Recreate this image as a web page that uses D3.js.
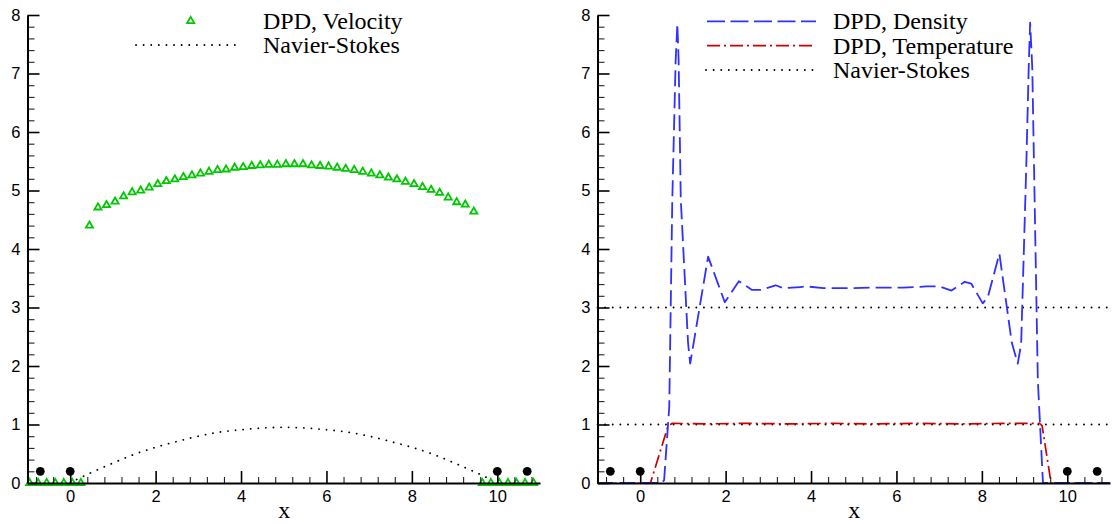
<!DOCTYPE html>
<html>
<head>
<meta charset="utf-8">
<script src="https://cdn.jsdelivr.net/npm/d3@7"></script>
<style>
  html, body { margin: 0; padding: 0; background: #fff; }
  svg { display: block; }
  .tick text { font-family: "Liberation Sans", Arial, sans-serif; font-size: 16.5px; fill: #000; }
  .lab { font-family: "Liberation Serif", "Times New Roman", serif; font-size: 24px; fill: #000; }
</style>
</head>
<body>
<svg id="chart" width="1112" height="524"></svg>
<script>
// ---------------- DATA ----------------
const xTicks = [0, 2, 4, 6, 8, 10];
const yTicks = [0, 1, 2, 3, 4, 5, 6, 7, 8];

// Left panel: DPD velocity (triangles)
const velX = [0.45,0.65,0.85,1.05,1.25,1.45,1.65,1.85,2.05,2.25,2.45,2.65,2.85,3.05,3.25,3.45,3.65,3.85,4.05,4.25,4.45,4.65,
              4.85,5.05,5.25,5.45,5.65,5.85,6.05,6.25,6.45,6.65,6.85,7.05,7.25,7.45,7.65,7.85,8.05,8.25,8.45,8.65,8.85,9.05,9.25,9.45];
const velY = [4.40,4.71,4.75,4.81,4.90,4.97,5.00,5.05,5.11,5.16,5.19,5.23,5.26,5.29,5.32,5.35,5.36,5.39,5.40,5.42,5.43,5.44,
              5.44,5.45,5.45,5.45,5.43,5.42,5.41,5.39,5.37,5.35,5.32,5.29,5.26,5.22,5.19,5.15,5.11,5.06,5.01,4.96,4.88,4.80,4.76,4.64];
// wall region velocity samples (zero)
const wallX = [-0.95,-0.75,-0.55,-0.35,-0.15,0.05,0.25, 9.65,9.85,10.05,10.25,10.45,10.65,10.85];
const wallY = [0,0,0,0,0,0,0, 0,0,0,0,0,0,0];

// Left panel: Navier-Stokes velocity
const nsVelX = [0.15,0.5,1,1.5,2,2.5,3,3.5,4,4.5,5,5.5,6,6.5,7,7.5,8,8.5,9,9.5,9.85];
const nsVelY = [0.06,0.18,0.34,0.49,0.61,0.71,0.80,0.87,0.91,0.94,0.952,0.94,0.91,0.87,0.80,0.71,0.61,0.49,0.34,0.18,0.06];

// Wall particles (black dots)
const wallDotX = [-0.7, 0, 10, 10.7];
const wallDotY = [0.2, 0.2, 0.2, 0.2];

// Right panel: DPD density
const denX = [-1,0.5,0.56,0.68,0.75,0.83,0.87,0.9,0.95,1.12,1.17,1.59,1.98,2.31,2.62,2.82,3.17,3.36,3.75,3.9,4.29,4.84,5.38,5.93,6.16,6.7,7.01,7.29,7.6,7.75,8.02,8.14,8.41,8.7,8.84,8.92,9.04,9.1,9.13,9.18,9.31,9.43,11];
const denY = [0,0,0.05,1.3,4.8,7.22,7.85,7.22,4.85,2.4,2.04,3.87,3.09,3.45,3.30,3.30,3.38,3.33,3.35,3.36,3.33,3.33,3.34,3.34,3.34,3.36,3.36,3.29,3.44,3.41,3.07,3.18,3.92,2.4,2.04,2.38,5.42,7.2,7.87,7.1,1.76,0.0,0];

// Right panel: DPD temperature
const tempX = [-1,0.24,0.65,0.75,1.5,2.5,3.5,4.5,5.5,6.5,7.5,8.5,9.35,9.41,9.62,11];
const tempY = [0,0,0.97,1.02,1.01,1.02,1.01,1.02,1.01,1.02,1.01,1.02,1.02,0.98,0,0];

// Right panel: Navier-Stokes density and temperature
const nsDenY = 3;
const nsTempY = 1;

const legendLeft = ["DPD, Velocity", "Navier-Stokes"];
const legendRight = ["DPD, Density", "DPD, Temperature", "Navier-Stokes"];

// ---------------- DRAW ----------------
const svg = d3.select("#chart");
const GREEN = "#00c800", BLUE = "#3030ff", RED = "#cc0000";
const DOT_DASH = "0.1,7.5";

function makePanel(x0, x1) {
  const x = d3.scaleLinear().domain([-1, 11]).range([x0, x1]);
  const y = d3.scaleLinear().domain([0, 8]).range([483, 15]);
  return {x, y};
}

function drawAxes(g, x, y) {
  const minorX = d3.range(-0.8, 10.81, 0.4).filter(v => Math.abs(v / 2 - Math.round(v / 2)) > 1e-6);
  const minorY = d3.range(0, 8.001, 0.2).filter(v => Math.abs(v - Math.round(v)) > 1e-6);
  // minor ticks
  g.append("g").attr("transform", `translate(0,${y(0)})`)
    .call(d3.axisBottom(x).tickValues(minorX).tickSize(-6).tickFormat(""))
    .call(a => a.select(".domain").remove())
    .call(a => a.selectAll("line").attr("stroke", "#222").attr("stroke-width", 1.1));
  g.append("g").attr("transform", `translate(${x(-1)},0)`)
    .call(d3.axisLeft(y).tickValues(minorY).tickSize(-7).tickFormat(""))
    .call(a => a.select(".domain").remove())
    .call(a => a.selectAll("line").attr("stroke", "#222").attr("stroke-width", 1.1));
  // major ticks
  g.append("g").attr("transform", `translate(0,${y(0)})`)
    .call(d3.axisBottom(x).tickValues(xTicks).tickSize(-12).tickSizeOuter(0).tickPadding(7).tickFormat(d3.format("d")))
    .call(a => a.select(".domain").attr("stroke", "#000").attr("stroke-width", 2))
    .call(a => a.selectAll(".tick line").attr("stroke", "#000").attr("stroke-width", 1.6));
  g.append("g").attr("transform", `translate(${x(-1)},0)`)
    .call(d3.axisLeft(y).tickValues(yTicks).tickSize(-12).tickSizeOuter(0).tickPadding(7).tickFormat(d3.format("d")))
    .call(a => a.select(".domain").attr("stroke", "#000").attr("stroke-width", 2))
    .call(a => a.selectAll(".tick line").attr("stroke", "#000").attr("stroke-width", 1.6));
  g.selectAll(".tick text").attr("fill", "#000");
  g.append("text").attr("class", "lab").attr("x", x(5.0) + 0.5).attr("y", 518)
    .attr("text-anchor", "middle").text("x");
}

function drawWallDots(g, x, y) {
  g.append("g").selectAll("circle").data(wallDotX).join("circle")
    .attr("cx", d => x(d)).attr("cy", (d, i) => y(wallDotY[i])).attr("r", 4.4).attr("fill", "#000");
}

// ----- Left panel -----
{
  const {x, y} = makePanel(27.5, 540);
  const g = svg.append("g");
  const tri = d3.symbol().type(d3.symbolTriangle).size(22);

  // Navier-Stokes dotted
  const ln = d3.line().x(d => x(d[0])).y(d => y(d[1])).curve(d3.curveMonotoneX);
  g.append("path").datum(nsVelX.map((v, i) => [v, nsVelY[i]]))
    .attr("d", ln).attr("fill", "none").attr("stroke", "#000").attr("stroke-width", 1.8)
    .attr("stroke-linecap", "round").attr("stroke-dasharray", DOT_DASH);

  // wall triangles (zero)
  g.append("g").selectAll("path").data(wallX).join("path")
    .attr("d", tri).attr("transform", (d, i) => `translate(${x(d)},${y(wallY[i])})`)
    .attr("fill", "none").attr("stroke", GREEN).attr("stroke-width", 1.8);

  drawAxes(g, x, y);

  g.append("g").selectAll("path").data(velX).join("path")
    .attr("d", tri).attr("transform", (d, i) => `translate(${x(d)},${y(velY[i])})`)
    .attr("fill", "none").attr("stroke", GREEN).attr("stroke-width", 1.8);

  drawWallDots(g, x, y);

  // legend
  g.append("path").attr("d", tri).attr("transform", "translate(190.7,21)")
    .attr("fill", "none").attr("stroke", GREEN).attr("stroke-width", 1.8);
  g.append("line").attr("x1", 136).attr("x2", 240).attr("y1", 45).attr("y2", 45)
    .attr("stroke", "#000").attr("stroke-width", 1.8).attr("stroke-linecap", "round").attr("stroke-dasharray", DOT_DASH);
  legendLeft.forEach((t, i) => {
    g.append("text").attr("class", "lab").attr("x", 263).attr("y", 29 + i * 24.3).text(t);
  });
}

// ----- Right panel -----
{
  const {x, y} = makePanel(597.5, 1110);
  const g = svg.append("g");
  const ln = d3.line().x(d => x(d[0])).y(d => y(d[1]));

  // NS horizontal lines
  [nsDenY, nsTempY].forEach(v => {
    g.append("path").datum([[-1, v], [11, v]]).attr("d", ln)
      .attr("fill", "none").attr("stroke", "#000").attr("stroke-width", 1.8)
      .attr("stroke-linecap", "round").attr("stroke-dasharray", DOT_DASH);
  });

  g.append("path").datum(tempX.map((v, i) => [v, tempY[i]])).attr("d", ln)
    .attr("fill", "none").attr("stroke", RED).attr("stroke-width", 1.7)
    .attr("stroke-dasharray", "13,4,2,4");

  g.append("path").datum(denX.map((v, i) => [v, denY[i]])).attr("d", ln)
    .attr("fill", "none").attr("stroke", BLUE).attr("stroke-width", 1.8)
    .attr("stroke-linejoin", "round").attr("stroke-dasharray", "16,6");

  drawAxes(g, x, y);
  drawWallDots(g, x, y);

  // legend
  const ly = [21.3, 45.6, 70];
  g.append("line").attr("x1", 707).attr("x2", 816).attr("y1", ly[0]).attr("y2", ly[0])
    .attr("stroke", BLUE).attr("stroke-width", 1.8).attr("stroke-dasharray", "18,5.5");
  g.append("line").attr("x1", 707).attr("x2", 816).attr("y1", ly[1]).attr("y2", ly[1])
    .attr("stroke", RED).attr("stroke-width", 1.7).attr("stroke-dasharray", "13,4,2,4");
  g.append("line").attr("x1", 706).attr("x2", 814).attr("y1", ly[2]).attr("y2", ly[2])
    .attr("stroke", "#000").attr("stroke-width", 1.8).attr("stroke-linecap", "round").attr("stroke-dasharray", DOT_DASH);
  legendRight.forEach((t, i) => {
    g.append("text").attr("class", "lab").attr("x", 833).attr("y", ly[i] + 8).text(t);
  });
}
</script>
</body>
</html>
